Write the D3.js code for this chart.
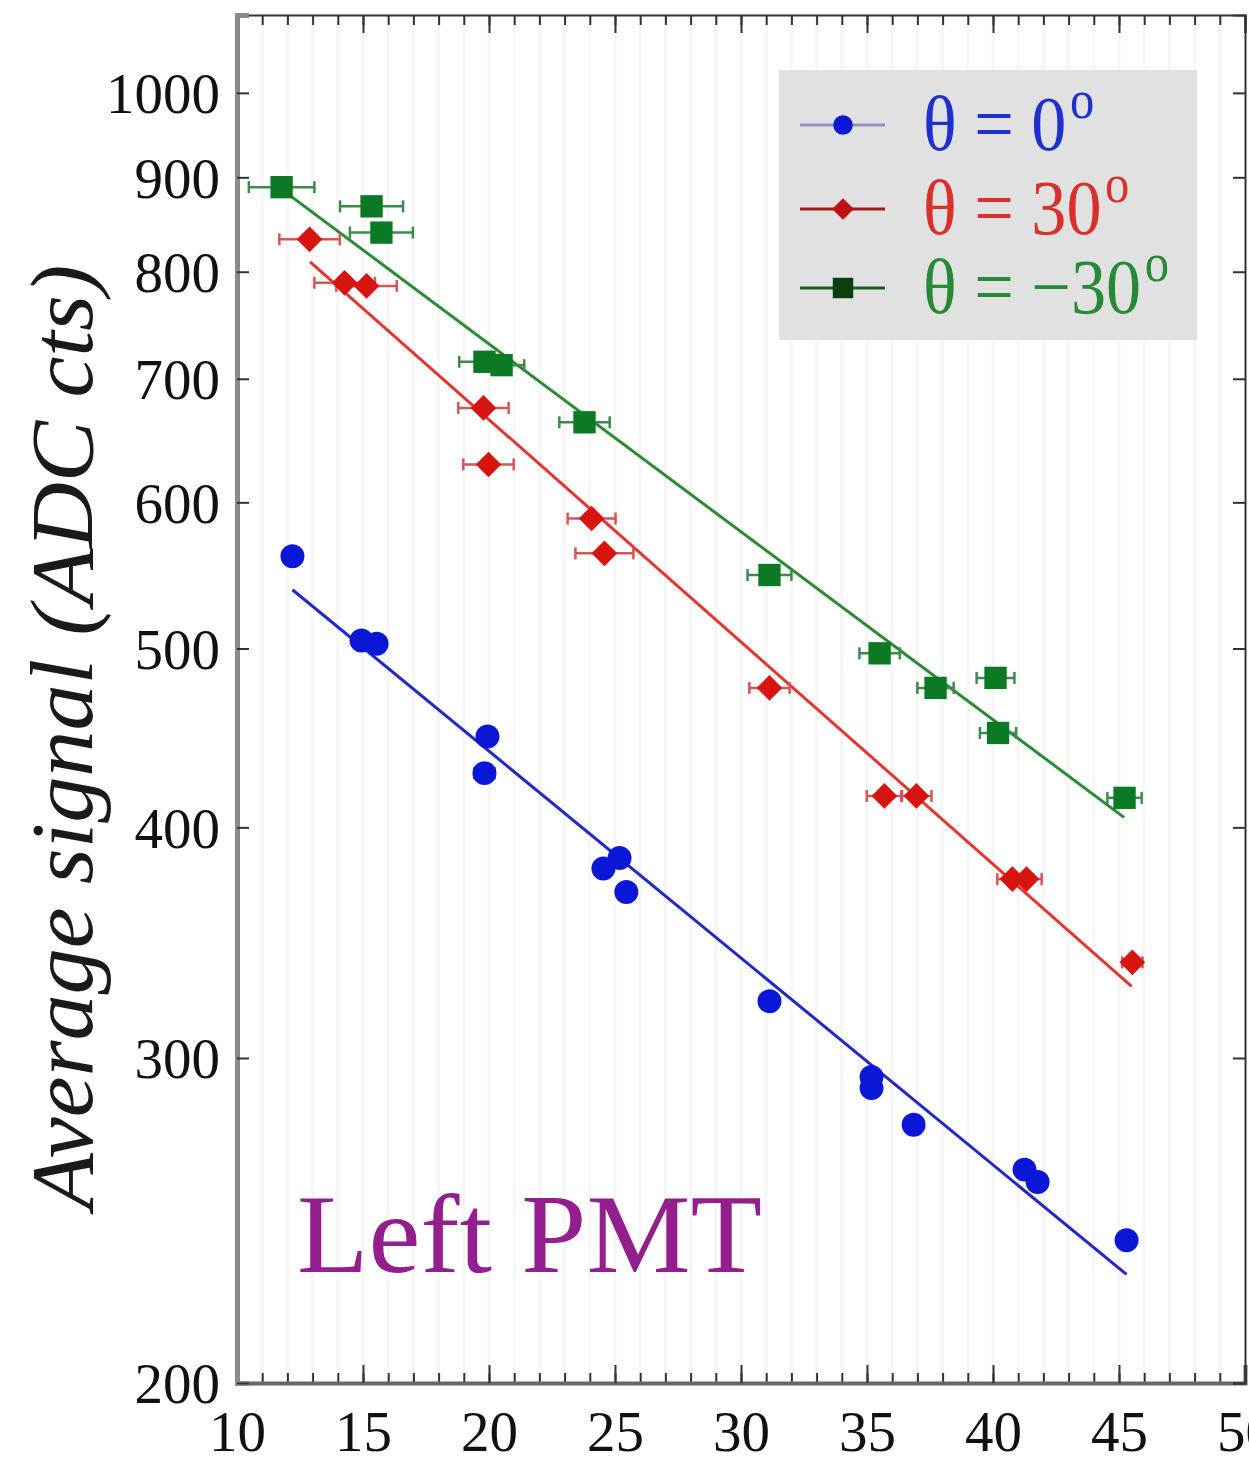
<!DOCTYPE html>
<html>
<head>
<meta charset="utf-8">
<script src="https://cdnjs.cloudflare.com/ajax/libs/d3/7.8.5/d3.min.js"></script>
<style>
  body { margin: 0; background: #fff; }
  svg { display: block; }
</style>
</head>
<body>
<div id="pmt-graph"></div>
<script>
// average PMT signal vs distance, three beam angles, log y
var xTicks = [10, 15, 20, 25, 30, 35, 40, 45, 50];
var yTicks = [200, 300, 400, 500, 600, 700, 800, 900, 1000];

// theta = 0
var xBlue   = [12.2, 14.94, 15.54, 19.94, 19.82, 25.18, 24.54, 25.45, 31.13, 35.18, 35.18, 36.85, 41.25, 41.77, 45.3];
var yBlue   = [561, 505, 503, 448, 428, 385, 380, 369, 322, 293, 289, 276, 261, 257, 239];
var errBlue = [0.3, 0.3, 0.3, 0.3, 0.4, 0.3, 0.3, 0.3, 0.3, 0.3, 0.3, 0.3, 0.3, 0.3, 0.3];
var fitBlue = [[12.2, 538], [45.3, 229]];

// theta = 30
var xRed   = [12.88, 14.27, 15.14, 19.78, 19.98, 24.07, 24.58, 31.13, 35.69, 36.96, 40.77, 41.33, 45.53];
var yRed   = [833, 789, 786, 675, 629, 588, 563, 476, 416, 416, 375, 375, 338];
var errRed = [1.2, 1.2, 1.2, 1.0, 1.0, 0.95, 1.15, 0.8, 0.7, 0.6, 0.6, 0.6, 0.4];
var fitRed = [[12.9, 810], [45.5, 328]];

// theta = -30
var xGreen   = [11.77, 15.34, 15.73, 19.82, 20.5, 23.79, 31.13, 35.5, 37.72, 40.1, 40.2, 45.22];
var yGreen   = [889, 868, 840, 715, 712, 663, 548, 497, 476, 482, 450, 415];
var errGreen = [1.3, 1.25, 1.25, 1.0, 0.9, 1.0, 0.87, 0.8, 0.72, 0.75, 0.72, 0.68];
var fitGreen = [[11.8, 886], [45.2, 405]];

var legendLabels = ["0", "30", "\u221230"];

var series = [
    {x: xBlue,  y: yBlue,  err: errBlue,  fit: fitBlue,  shape: "circle",
     color: "#0a17d6", line: "#1f28c8", errColor: "#3a44d0", legLine: "#8a8fc6", legMark: "#0a17d6", text: "#1f2fd0"},
    {x: xRed,   y: yRed,   err: errRed,   fit: fitRed,   shape: "diamond",
     color: "#d8140e", line: "#e4362e", errColor: "#d45656", legLine: "#a51814", legMark: "#c01010", text: "#d8302a"},
    {x: xGreen, y: yGreen, err: errGreen, fit: fitGreen, shape: "square",
     color: "#0c7a24", line: "#2a8c32", errColor: "#3c8a4c", legLine: "#145e1c", legMark: "#0a3f10", text: "#268a36"}
];

var margin = {top: 15, right: 4, bottom: 78, left: 237},
    width = 1245 - margin.left,
    height = 1383 - margin.top;

var svg = d3.select("#pmt-graph")
    .append("svg")
    .attr("width", 1249)
    .attr("height", 1461)
    .append("g")
      .attr("transform", "translate(" + margin.left + "," + margin.top + ")");

var x = d3.scaleLinear()
    .domain([10, 50])
    .range([0, width]);

var y = d3.scaleLog()
    .domain([200, 1102])
    .range([height, 0]);

// faint vertical banding in the plot background
svg.append("g")
    .selectAll("line")
    .data(d3.range(11, 50))
    .enter()
    .append("line")
      .attr("x1", function(d) { return x(d); })
      .attr("x2", function(d) { return x(d); })
      .attr("y1", 0)
      .attr("y2", height)
      .attr("stroke", "#f6f6f6")
      .attr("stroke-width", 3);

// axes - ticks point inward on all four sides
var minorX = d3.range(10, 51);

svg.append("g")
    .attr("transform", "translate(0," + height + ")")
    .call(d3.axisBottom(x).tickValues(minorX).tickSize(-10).tickFormat(""))
    .call(function(g) { g.select(".domain").remove(); });

var bottomAxis = svg.append("g")
    .attr("transform", "translate(0," + height + ")")
    .call(d3.axisBottom(x).tickValues(xTicks).tickSize(-18).tickPadding(17).tickFormat(d3.format("d")));
bottomAxis.select(".domain").attr("stroke", "#666").attr("stroke-width", 4);
bottomAxis.selectAll("text")
    .attr("dy", "0.9em")
    .style("font-family", "'Liberation Serif', serif")
    .style("font-size", "57px")
    .attr("fill", "#111");

svg.append("g")
    .call(d3.axisTop(x).tickValues(minorX).tickSize(-10).tickFormat(""))
    .call(function(g) { g.select(".domain").remove(); });
var topAxis = svg.append("g")
    .call(d3.axisTop(x).tickValues(xTicks).tickSize(-18).tickFormat(""));
topAxis.select(".domain").attr("stroke", "#333").attr("stroke-width", 2);

var leftAxis = svg.append("g")
    .call(d3.axisLeft(y).tickValues(yTicks).tickSize(-12).tickPadding(17).tickFormat(d3.format("d")));
leftAxis.select(".domain").attr("stroke", "#8a8a8a").attr("stroke-width", 5);
leftAxis.selectAll("text")
    .attr("dy", "0.35em")
    .style("font-family", "'Liberation Serif', serif")
    .style("font-size", "57px")
    .attr("fill", "#111");

var rightAxis = svg.append("g")
    .attr("transform", "translate(" + width + ",0)")
    .call(d3.axisRight(y).tickValues(yTicks).tickSize(-12).tickFormat(""));
rightAxis.select(".domain").attr("stroke", "#333").attr("stroke-width", 2);

svg.selectAll(".tick line").attr("stroke", "#333").attr("stroke-width", 2);

// fit lines
var line = d3.line()
    .x(function(d) { return x(d[0]); })
    .y(function(d) { return y(d[1]); });

series.forEach(function(s) {
    svg.append("path")
        .datum(s.fit)
        .attr("d", line)
        .attr("fill", "none")
        .attr("stroke", s.line)
        .attr("stroke-width", 3);
});

function symbolFor(shape) {
    if (shape == "circle") return d3.symbolCircle;
    if (shape == "square") return d3.symbolSquare;
    return d3.symbolDiamond2;
}

// error bars and markers
series.forEach(function(s) {
    var pts = s.x.map(function(v, i) { return {x: v, y: s.y[i], e: s.err[i]}; });
    var bars = svg.append("g")
        .attr("stroke", s.errColor)
        .attr("stroke-width", 2.5);
    bars.selectAll("line.h")
        .data(pts)
        .enter()
        .append("line")
          .attr("x1", function(d) { return x(d.x - d.e); })
          .attr("x2", function(d) { return x(d.x + d.e); })
          .attr("y1", function(d) { return y(d.y); })
          .attr("y2", function(d) { return y(d.y); });
    [-1, 1].forEach(function(side) {
        bars.selectAll("line.c" + side)
            .data(pts)
            .enter()
            .append("line")
              .attr("x1", function(d) { return x(d.x + side * d.e); })
              .attr("x2", function(d) { return x(d.x + side * d.e); })
              .attr("y1", function(d) { return y(d.y) - 6; })
              .attr("y2", function(d) { return y(d.y) + 6; });
    });

    var size = s.shape == "circle" ? 450 : (s.shape == "square" ? 500 : 420);
    svg.append("g")
        .selectAll("path")
        .data(pts)
        .enter()
        .append("path")
          .attr("transform", function(d) { return "translate(" + x(d.x) + "," + y(d.y) + ")"; })
          .attr("d", d3.symbol().type(symbolFor(s.shape)).size(size))
          .attr("fill", s.color);
});

// legend
var legend = d3.select("svg").append("g");
legend.append("rect")
    .attr("x", 779)
    .attr("y", 70)
    .attr("width", 418)
    .attr("height", 270)
    .attr("fill", "#e1e1e1");

var rowY = [125, 209, 288];
series.forEach(function(s, i) {
    var size = s.shape == "circle" ? 300 : (s.shape == "square" ? 420 : 300);
    legend.append("line")
        .attr("x1", 800).attr("x2", 885)
        .attr("y1", rowY[i]).attr("y2", rowY[i])
        .attr("stroke", s.legLine)
        .attr("stroke-width", 3);
    legend.append("path")
        .attr("transform", "translate(843," + rowY[i] + ")")
        .attr("d", d3.symbol().type(symbolFor(s.shape)).size(size))
        .attr("fill", s.legMark);
    var t = legend.append("text")
        .attr("transform", "translate(923," + (rowY[i] + 25) + ") scale(0.9,1)")
        .style("font-family", "'Liberation Serif', serif")
        .style("font-size", "78px")
        .attr("fill", s.text);
    t.append("tspan").text("\u03b8 = " + legendLabels[i]);
    t.append("tspan")
        .attr("dy", -32)
        .attr("dx", 4)
        .style("font-size", "54px")
        .text("o");
});

// panel label
d3.select("svg").append("text")
    .attr("x", 297)
    .attr("y", 1272)
    .attr("textLength", 465)
    .attr("lengthAdjust", "spacingAndGlyphs")
    .style("font-family", "'Liberation Serif', serif")
    .style("font-size", "112px")
    .attr("fill", "#931f8f")
    .text("Left PMT");

// y axis title
d3.select("svg").append("text")
    .attr("transform", "translate(92,737) rotate(-90)")
    .attr("text-anchor", "middle")
    .attr("textLength", 945)
    .attr("lengthAdjust", "spacingAndGlyphs")
    .style("font-family", "'Liberation Serif', serif")
    .style("font-style", "italic")
    .style("font-size", "88px")
    .attr("fill", "#1a1a1a")
    .text("Average signal (ADC cts)");
</script>
</body>
</html>
